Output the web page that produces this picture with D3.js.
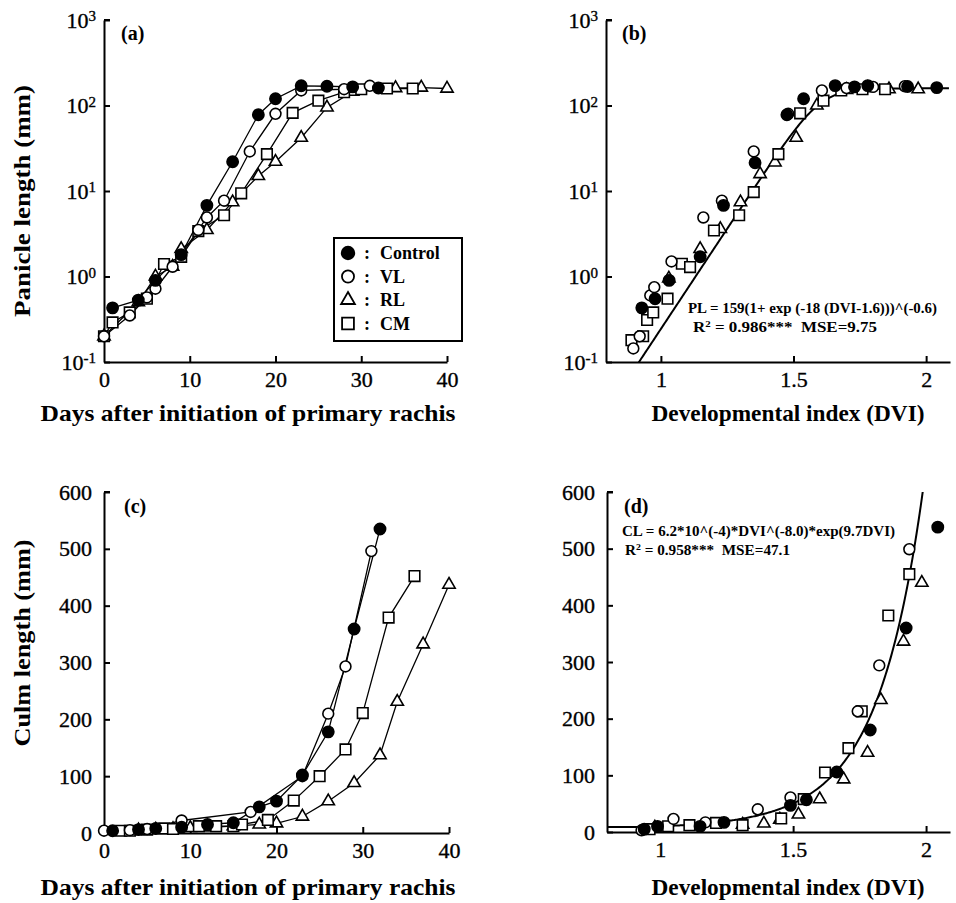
<!DOCTYPE html>
<html><head><meta charset="utf-8">
<script src="https://cdn.jsdelivr.net/npm/d3@7"></script>
<style>
body{margin:0;background:#fff;}
svg text{font-family:"Liberation Serif","Times New Roman",serif;fill:#000;}
</style></head><body>
<svg id="chart" width="956" height="903"></svg>
<script>
// ---- Panel (a): panicle length vs days after initiation of primary rachis ----
const ctrlDaysA = [1, 4, 6, 9, 12, 15, 18, 20, 23, 26, 29, 32];
const ctrlPLA   = [0.43, 0.53, 0.9, 1.8, 6.8, 22, 78, 120, 170, 168, 165, 160];
const vlDaysA   = [0, 3, 5, 6, 8, 11, 12, 14, 17, 20, 23, 28, 31];
const vlPLA     = [0.2, 0.35, 0.57, 0.72, 1.3, 3.5, 4.9, 7.7, 29, 80, 150, 155, 170];
const rlDaysA   = [0, 4, 6, 8, 9, 12, 15, 18, 20, 23, 26, 29, 34, 37, 40];
const rlPLA     = [0.2, 0.5, 1.0, 1.3, 2.1, 3.5, 7.4, 15, 22, 42, 95, 145, 160, 162, 158];
const cmDaysA   = [0, 1, 3, 5, 7, 9, 11, 14, 16, 19, 22, 25, 28, 30, 33, 36];
const cmPLA     = [0.2, 0.29, 0.38, 0.55, 1.4, 1.7, 3.4, 5.2, 9.4, 27, 82, 114, 143, 155, 158, 158];

// ---- Panel (b): panicle length vs DVI ----
const ctrlDviB = [0.928, 0.978, 1.031, 1.148, 1.236, 1.355, 1.475, 1.538, 1.657, 1.73, 1.78, 1.93, 2.04];
const ctrlPLB  = [0.43, 0.55, 0.9, 1.7, 6.8, 21.4, 78, 120, 171, 165, 171, 167, 162];
const vlDviB   = [0.896, 0.92, 0.96, 0.975, 1.04, 1.16, 1.23, 1.35, 1.48, 1.607, 1.70, 1.80, 1.92];
const vlPLB    = [0.144, 0.2, 0.6, 0.75, 1.5, 4.9, 7.7, 29, 80, 150, 160, 165, 168];
const rlDviB   = [1.03, 1.148, 1.224, 1.30, 1.374, 1.43, 1.51, 1.588, 1.70, 1.78, 1.86, 1.97];
const rlPLB    = [0.95, 2.1, 3.6, 7.4, 15.8, 21.6, 42, 100, 152, 160, 155, 155];
const cmDviB   = [0.889, 0.933, 0.948, 0.971, 1.025, 1.079, 1.11, 1.2, 1.295, 1.35, 1.443, 1.525, 1.613, 1.68, 1.76, 1.845];
const cmPLB    = [0.18, 0.2, 0.31, 0.38, 0.55, 1.41, 1.29, 3.45, 5.2, 9.7, 27, 81, 114, 150, 155, 155];

// ---- Panel (c): culm length vs days ----
const ctrlDaysC = [1, 4, 6, 9, 12, 15, 18, 20, 23, 26, 29, 32];
const ctrlCLC   = [4, 6, 8, 10, 15, 18, 46, 56, 102, 178, 359, 535];
const vlDaysC   = [0, 3, 5, 9, 17, 23, 26, 28, 31];
const vlCLC     = [4, 5, 7, 22, 37, 100, 210, 293, 496];
const rlDaysC   = [4, 6, 8, 10, 12, 15, 18, 20, 23, 26, 29, 32, 34, 37, 40];
const rlCLC     = [5, 6, 7, 9, 10, 12, 15, 17, 29, 56, 88, 137, 231, 332, 437];
const cmDaysC   = [2, 3, 5, 7, 8, 11, 13, 15, 16, 19, 22, 25, 28, 30, 33, 36];
const cmCLC     = [4, 4, 6, 8, 7, 12, 12, 12, 15, 23, 57, 100, 147, 211, 379, 452];

// ---- Panel (d): culm length vs DVI ----
const ctrlDviD = [0.94, 0.99, 1.15, 1.24, 1.49, 1.55, 1.664, 1.79, 1.925, 2.044];
const ctrlCLD  = [5, 10, 10, 17, 47, 57, 106, 180, 360, 538];
const vlDviD   = [0.93, 1.05, 1.17, 1.367, 1.49, 1.743, 1.824, 1.937];
const vlCLD    = [3, 23, 17, 40, 61, 213, 294, 499];
const rlDviD   = [0.98, 1.31, 1.39, 1.45, 1.52, 1.60, 1.69, 1.78, 1.83, 1.915, 1.984];
const rlCLD    = [8, 13, 15, 22, 31, 58, 93, 140, 233, 336, 440];
const cmDviD   = [0.96, 1.03, 1.11, 1.21, 1.31, 1.455, 1.54, 1.62, 1.708, 1.758, 1.858, 1.937];
const cmCLD    = [5, 10, 12, 16, 12, 24, 58, 105, 148, 213, 382, 455];

// ---- Tick values and labels ----
const logTicks = [0.1, 1, 10, 100, 1000];
const dayTicks = [0, 10, 20, 30, 40];
const dviTicks = [1, 1.5, 2];
const clTicks  = [0, 100, 200, 300, 400, 500, 600];
const seriesNames = ["Control", "VL", "RL", "CM"];

// ---- Fitted models ----
const plModel = {a: 159, k: 18, x0: 1.6, p: -0.6};        // PL = a(1+exp(-k(DVI-x0)))^p
const clModel = {c: 6.2e-4, p: -8.0, r: 9.7};            // CL = c*DVI^p*exp(r*DVI)

const svg = d3.select("#chart");
const FONT = "Liberation Serif, Times New Roman, serif";

const symbolStyle = {
  Control: {type: d3.symbolCircle,   size: 100, fill: "#000"},
  VL:      {type: d3.symbolCircle,   size: 92,  fill: "#fff"},
  RL:      {type: d3.symbolTriangle, size: 66,  fill: "#fff"},
  CM:      {type: d3.symbolSquare,   size: 112, fill: "#fff"}
};

function drawMarkers(g, name, xs, ys, x, y) {
  const st = symbolStyle[name];
  g.selectAll(null).data(xs.map((v, i) => [v, ys[i]])).enter().append("path")
    .attr("d", d3.symbol().type(st.type).size(st.size))
    .attr("transform", d => `translate(${x(d[0])},${y(d[1])})`)
    .attr("fill", st.fill).attr("stroke", "#000").attr("stroke-width", 1.6);
}

function drawLine(g, xs, ys, x, y) {
  g.append("path").datum(xs.map((v, i) => [v, ys[i]]))
    .attr("d", d3.line().x(d => x(d[0])).y(d => y(d[1])))
    .attr("fill", "none").attr("stroke", "#000").attr("stroke-width", 1.3);
}

function styleAxis(ga, size) {
  ga.attr("font-family", FONT).attr("font-size", size);
  ga.select(".domain").attr("stroke-width", 2);
  ga.selectAll(".tick line").attr("stroke-width", 2);
  ga.selectAll(".tick text").attr("stroke", "#000").attr("stroke-width", 0.35);
}

function leftLogAxis(x0, y) {
  const ga = svg.append("g").attr("transform", `translate(${x0},0)`)
    .call(d3.axisLeft(y).tickValues(logTicks).tickSizeInner(-6).tickSizeOuter(0)
      .tickPadding(8).tickFormat(() => ""));
  styleAxis(ga, 22);
  ga.selectAll(".tick text").each(function (d) {
    const t = d3.select(this);
    t.append("tspan").text("10");
    t.append("tspan").attr("dy", "-0.42em").attr("font-size", 15)
      .text(String(Math.round(Math.log10(d))));
  });
  // cap at the top of the axis
  ga.append("line").attr("x1", 0).attr("x2", 6).attr("y1", y.range()[1]).attr("y2", y.range()[1])
    .attr("stroke", "#000").attr("stroke-width", 2);
}

function leftLinAxis(x0, y) {
  const ga = svg.append("g").attr("transform", `translate(${x0},0)`)
    .call(d3.axisLeft(y).tickValues(clTicks).tickSizeInner(-6).tickSizeOuter(0).tickPadding(12));
  styleAxis(ga, 22);
}

function bottomAxis(y0, x, ticks, fmt) {
  const ga = svg.append("g").attr("transform", `translate(0,${y0})`)
    .call(d3.axisBottom(x).tickValues(ticks).tickSizeInner(-6).tickSizeOuter(0)
      .tickPadding(9).tickFormat(fmt));
  styleAxis(ga, 22);
  ga.selectAll(".tick").filter(d => d === x.domain()[0]).select("line").remove();
}

function text(x, y, s, size, weight, anchor) {
  return svg.append("text").attr("x", x).attr("y", y).attr("font-size", size)
    .attr("font-weight", weight || "bold").attr("text-anchor", anchor || "start")
    .attr("font-family", FONT).text(s);
}

// ================= Panel (a) =================
const xA = d3.scaleLinear().domain([0, 40]).range([104, 447]);
const yA = d3.scaleLog().domain([0.1, 1000]).range([362, 20]);
leftLogAxis(104, yA);
bottomAxis(362, xA, dayTicks, d3.format("d"));
const gA = svg.append("g");
[[rlDaysA, rlPLA], [cmDaysA, cmPLA], [vlDaysA, vlPLA], [ctrlDaysA, ctrlPLA]]
  .forEach(([xs, ys]) => drawLine(gA, xs, ys, xA, yA));
drawMarkers(gA, "RL", rlDaysA, rlPLA, xA, yA);
drawMarkers(gA, "CM", cmDaysA, cmPLA, xA, yA);
drawMarkers(gA, "VL", vlDaysA, vlPLA, xA, yA);
drawMarkers(gA, "Control", ctrlDaysA, ctrlPLA, xA, yA);
text(121, 40, "(a)", 20);

// legend
svg.append("rect").attr("x", 334).attr("y", 238).attr("width", 128).attr("height", 103)
  .attr("fill", "#fff").attr("stroke", "#000").attr("stroke-width", 2);
seriesNames.forEach((name, i) => {
  const cy = 253 + i * 23.5;
  const st = symbolStyle[name];
  svg.append("path").attr("d", d3.symbol().type(st.type).size(st.size * 1.25)())
    .attr("transform", `translate(348,${cy})`).attr("fill", st.fill)
    .attr("stroke", "#000").attr("stroke-width", 1.8);
  text(364, cy + 6, ":", 18);
  text(380, cy + 6, name, 18);
});

// ================= Panel (b) =================
const xB = d3.scaleLinear().domain([0.793, 2.09]).range([606, 950]);
const yB = d3.scaleLog().domain([0.1, 1000]).range([362, 20]);
leftLogAxis(606, yB);
bottomAxis(362, xB, dviTicks, d => String(d));
svg.append("clipPath").attr("id", "clipB").append("rect")
  .attr("x", 606).attr("y", 20).attr("width", 344).attr("height", 342);
const plCurve = d3.range(0.85, 2.09, 0.004).map(v =>
  [v, plModel.a * Math.pow(1 + Math.exp(-plModel.k * (v - plModel.x0)), plModel.p)]);
svg.append("path").datum(plCurve).attr("clip-path", "url(#clipB)")
  .attr("d", d3.line().x(d => xB(d[0])).y(d => yB(Math.max(d[1], 0.05))))
  .attr("fill", "none").attr("stroke", "#000").attr("stroke-width", 2);
const gB = svg.append("g");
drawMarkers(gB, "RL", rlDviB, rlPLB, xB, yB);
drawMarkers(gB, "CM", cmDviB, cmPLB, xB, yB);
drawMarkers(gB, "VL", vlDviB, vlPLB, xB, yB);
drawMarkers(gB, "Control", ctrlDviB, ctrlPLB, xB, yB);
text(622, 40, "(b)", 20);
text(688, 313, "PL = 159(1+ exp (-18 (DVI-1.6)))^(-0.6)", 14)
  .attr("textLength", 249).attr("lengthAdjust", "spacingAndGlyphs");
const r2b = text(693, 332, "R", 14);
r2b.append("tspan").attr("dy", -5).attr("font-size", 9).text("2");
r2b.append("tspan").attr("dy", 5).text(" = 0.986***\u00a0\u00a0MSE=9.75");
r2b.attr("textLength", 184).attr("lengthAdjust", "spacingAndGlyphs");

// ================= Panel (c) =================
const xC = d3.scaleLinear().domain([0, 40]).range([104, 449]);
const yC = d3.scaleLinear().domain([0, 600]).range([833, 492]);
leftLinAxis(104, yC);
bottomAxis(833, xC, dayTicks, d3.format("d"));
svg.append("line").attr("x1", 104).attr("x2", 110).attr("y1", 492).attr("y2", 492)
  .attr("stroke", "#000").attr("stroke-width", 2);
const gC = svg.append("g");
[[rlDaysC, rlCLC], [cmDaysC, cmCLC], [vlDaysC, vlCLC], [ctrlDaysC, ctrlCLC]]
  .forEach(([xs, ys]) => drawLine(gC, xs, ys, xC, yC));
drawMarkers(gC, "RL", rlDaysC, rlCLC, xC, yC);
drawMarkers(gC, "CM", cmDaysC, cmCLC, xC, yC);
drawMarkers(gC, "VL", vlDaysC, vlCLC, xC, yC);
drawMarkers(gC, "Control", ctrlDaysC, ctrlCLC, xC, yC);
text(124, 513, "(c)", 20);

// ================= Panel (d) =================
const xD = d3.scaleLinear().domain([0.8, 2.09]).range([607, 950]);
const yD = d3.scaleLinear().domain([0, 600]).range([832, 492]);
leftLinAxis(607, yD);
bottomAxis(832, xD, dviTicks, d => String(d));
svg.append("line").attr("x1", 607).attr("x2", 613).attr("y1", 492).attr("y2", 492)
  .attr("stroke", "#000").attr("stroke-width", 2);
svg.append("clipPath").attr("id", "clipD").append("rect")
  .attr("x", 607).attr("y", 492).attr("width", 343).attr("height", 340);
const clCurve = d3.range(0.8, 2.05, 0.004).map(v =>
  [v, clModel.c * Math.pow(v, clModel.p) * Math.exp(clModel.r * v)]);
svg.append("path").datum(clCurve).attr("clip-path", "url(#clipD)")
  .attr("d", d3.line().x(d => xD(d[0])).y(d => yD(d[1])))
  .attr("fill", "none").attr("stroke", "#000").attr("stroke-width", 2);
const gD = svg.append("g");
drawMarkers(gD, "RL", rlDviD, rlCLD, xD, yD);
drawMarkers(gD, "CM", cmDviD, cmCLD, xD, yD);
drawMarkers(gD, "VL", vlDviD, vlCLD, xD, yD);
drawMarkers(gD, "Control", ctrlDviD, ctrlCLD, xD, yD);
text(624, 513, "(d)", 20);
text(622, 536, "CL = 6.2*10^(-4)*DVI^(-8.0)*exp(9.7DVI)", 14)
  .attr("textLength", 273).attr("lengthAdjust", "spacingAndGlyphs");
const r2d = text(625, 555, "R", 14);
r2d.append("tspan").attr("dy", -5).attr("font-size", 9).text("2");
r2d.append("tspan").attr("dy", 5).text(" = 0.958***\u00a0\u00a0MSE=47.1");
r2d.attr("textLength", 165).attr("lengthAdjust", "spacingAndGlyphs");

// ================= Axis titles =================
function title(x, y, s, len, rotate) {
  const t = text(rotate ? 0 : x, rotate ? 0 : y, s, 23, "bold", "middle")
    .attr("textLength", len).attr("lengthAdjust", "spacingAndGlyphs");
  if (rotate) t.attr("transform", `translate(${x},${y}) rotate(-90)`);
  return t;
}
title(248, 421, "Days after initiation of primary rachis", 415);
title(788, 421, "Developmental index (DVI)", 273);
title(248, 895, "Days after initiation of primary rachis", 415);
title(788, 895, "Developmental index (DVI)", 273);
title(30, 201, "Panicle length (mm)", 232, true);
title(30, 643, "Culm length (mm)", 207, true);
</script>
</body></html>
